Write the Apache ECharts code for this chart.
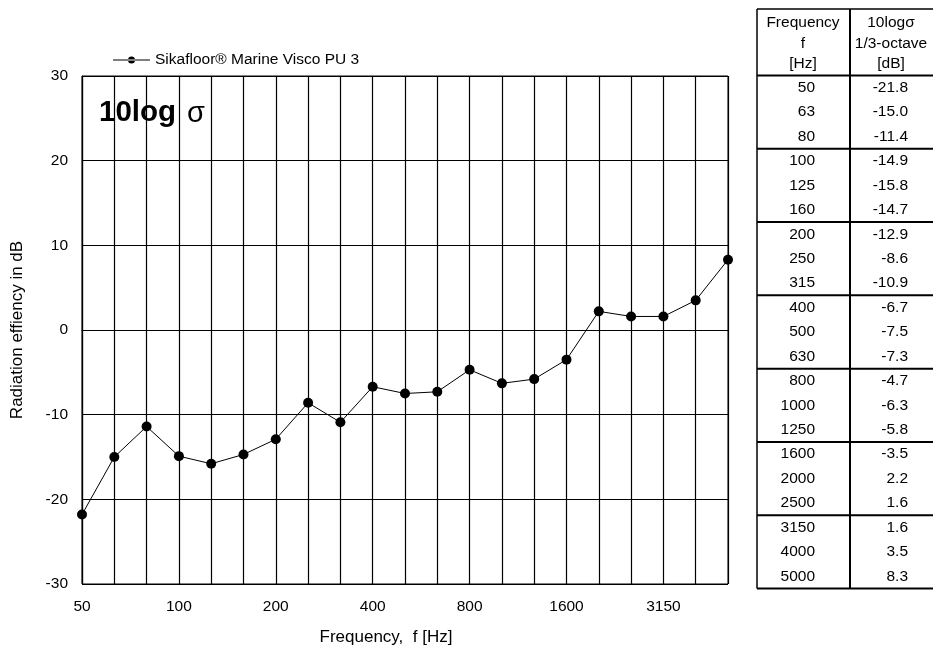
<!DOCTYPE html>
<html>
<head>
<meta charset="utf-8">
<script src="https://cdn.jsdelivr.net/npm/echarts@6/dist/echarts.min.js"></script>
<style>
html,body{margin:0;padding:0;background:#fff;}
#c{width:933px;height:650px;}
</style>
</head>
<body>
<div id="c"></div>
<script>
var categories = ['50','63','80','100','125','160','200','250','315','400','500','630','800','1000','1250','1600','2000','2500','3150','4000','5000'];
var values = [-21.8,-15.0,-11.4,-14.9,-15.8,-14.7,-12.9,-8.6,-10.9,-6.7,-7.5,-7.3,-4.7,-6.3,-5.8,-3.5,2.2,1.6,1.6,3.5,8.3];
var valueLabels = ['-21.8','-15.0','-11.4','-14.9','-15.8','-14.7','-12.9','-8.6','-10.9','-6.7','-7.5','-7.3','-4.7','-6.3','-5.8','-3.5','2.2','1.6','1.6','3.5','8.3'];
var seriesName = 'Sikafloor® Marine Visco PU 3';
var headerCol1 = ['Frequency','f','[Hz]'];
var headerCol2 = ['10logσ','1/3-octave','[dB]'];

var FONT = 'Liberation Sans, Arial, sans-serif';
var FS = 15.5;
var chart = echarts.init(document.getElementById('c'));

// table graphics
var g = [];
var tL = 757, tM = 850, tR = 940, tTop = 9, hBot = 75.5, rowH = 24.43;
var tBot = hBot + rowH * categories.length;
var headerY = [23, 44, 64];
for (var i = 0; i < 3; i++) {
  g.push({type:'text', x:803, y:headerY[i], style:{text:headerCol1[i], font:FS + 'px ' + FONT, fill:'#000', textAlign:'center', textVerticalAlign:'middle'}});
  g.push({type:'text', x:891, y:headerY[i], style:{text:headerCol2[i], font:FS + 'px ' + FONT, fill:'#000', textAlign:'center', textVerticalAlign:'middle'}});
}
for (var r = 0; r < categories.length; r++) {
  var cy = hBot + rowH * (r + 0.5);
  g.push({type:'text', x:815, y:cy, style:{text:categories[r], font:FS + 'px ' + FONT, fill:'#000', textAlign:'right', textVerticalAlign:'middle'}});
  g.push({type:'text', x:908, y:cy, style:{text:valueLabels[r], font:FS + 'px ' + FONT, fill:'#000', textAlign:'right', textVerticalAlign:'middle'}});
}
function hline(y, w) { g.push({type:'line', shape:{x1:tL, y1:y, x2:tR, y2:y}, style:{stroke:'#000', lineWidth:w}}); }
function vline(x, w) { g.push({type:'line', shape:{x1:x, y1:tTop, x2:x, y2:tBot}, style:{stroke:'#000', lineWidth:w}}); }
hline(tTop, 1.5);
hline(hBot, 2);
for (var k = 3; k < categories.length; k += 3) hline(hBot + rowH * k, 2);
hline(tBot, 2);
vline(tL, 1.5);
vline(tM, 2);

// chart title inside plot
g.push({type:'text', x:99, y:113, style:{text:'10log', font:'bold 29.5px ' + FONT, fill:'#000', textAlign:'left', textVerticalAlign:'middle'}});
g.push({type:'text', x:187, y:114, style:{text:'σ', font:'29px ' + FONT, fill:'#000', textAlign:'left', textVerticalAlign:'middle'}});
// x axis title
g.push({type:'text', x:386, y:637, style:{text:'Frequency,  f [Hz]', font:'17px ' + FONT, fill:'#000', textAlign:'center', textVerticalAlign:'middle'}});

chart.setOption({
  animation:false,
  backgroundColor:'#fff',
  textStyle:{fontFamily:FONT},
  legend:{
    left:113, top:52, itemWidth:37, itemHeight:8, itemGap:5, padding:0,
    textStyle:{fontSize:FS, color:'#000', fontFamily:FONT},
    data:[{name:seriesName, icon:'path://M0,3.4h37v1.2h-37Z M22,4a3.5,3.5 0 1,0 -7,0a3.5,3.5 0 1,0 7,0Z'}]
  },
  grid:{left:82, right:205, top:76, bottom:66, show:true, borderColor:'#000', borderWidth:1, containLabel:false, outerBoundsMode:'none'},
  xAxis:{
    type:'category', data:categories, boundaryGap:false,
    axisLine:{lineStyle:{color:'#000', width:1.2}},
    axisTick:{show:false},
    axisLabel:{interval:2, color:'#000', fontSize:FS, margin:15, fontFamily:FONT},
    splitLine:{show:true, interval:0, lineStyle:{color:'#000', width:1.2}}
  },
  yAxis:{
    type:'value', min:-30, max:30, interval:10,
    name:'Radiation effiency in dB', nameLocation:'middle', nameGap:56,
    nameTextStyle:{fontSize:17, color:'#000', fontFamily:FONT},
    axisLine:{show:true, lineStyle:{color:'#000', width:1.2}},
    axisTick:{show:false},
    axisLabel:{color:'#000', fontSize:FS, margin:14, fontFamily:FONT},
    splitLine:{show:true, lineStyle:{color:'#000', width:1.2}}
  },
  series:[{
    name:seriesName, type:'line', data:values,
    symbol:'circle', symbolSize:10,
    itemStyle:{color:'#000'},
    lineStyle:{color:'#000', width:1}
  }],
  graphic:g
});
</script>
</body>
</html>
